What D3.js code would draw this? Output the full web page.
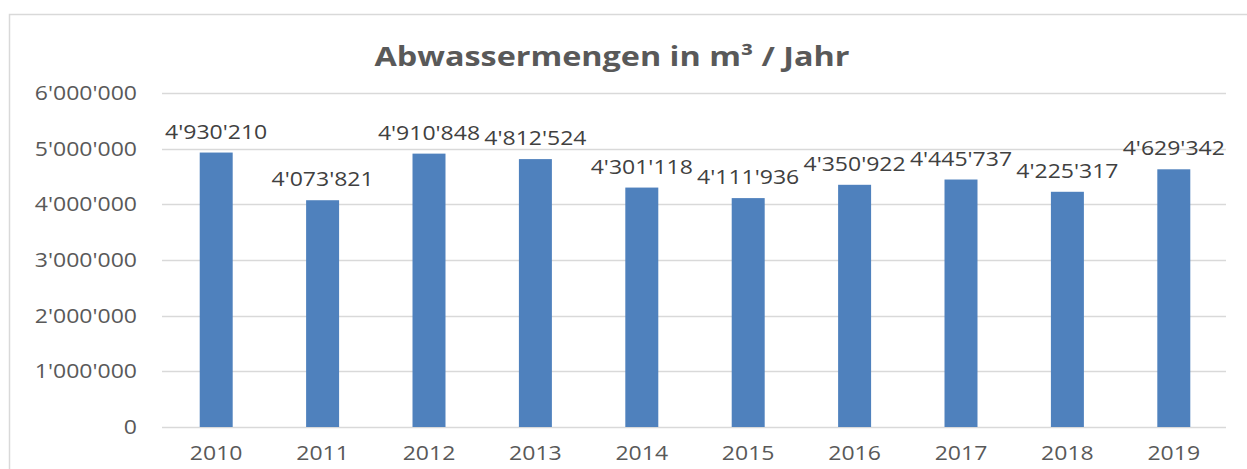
<!DOCTYPE html>
<html>
<head>
<meta charset="utf-8">
<script src="https://cdn.jsdelivr.net/npm/d3@7"></script>
<style>
  body { margin: 0; background: #fff; }
  text { font-family: "Open Sans", sans-serif; }
</style>
</head>
<body>
<script>
var width = 1247, height = 469;

// data
var years = ["2010", "2011", "2012", "2013", "2014", "2015", "2016", "2017", "2018", "2019"];
var volumes = [4930210, 4073821, 4910848, 4812524, 4301118, 4111936, 4350922, 4445737, 4225317, 4629342];
var yTicks = [0, 1000000, 2000000, 3000000, 4000000, 5000000, 6000000];

var margin = {top: 93, right: 20, bottom: 42, left: 163};
var stretch = 1.18; // the original text is drawn a bit wide

// 4930210 -> 4'930'210
function swiss(v) {
  return d3.format(",")(v).replace(/,/g, "'");
}

// widen text glyphs by a factor
function widen(sel, k) {
  sel.each(function() {
    var len = this.getComputedTextLength();
    d3.select(this)
      .attr("textLength", len * k)
      .attr("lengthAdjust", "spacingAndGlyphs");
  });
}

var svg = d3.select("body").append("svg")
  .attr("width", width)
  .attr("height", height);

// chart frame (runs off the right and bottom of the picture)
svg.append("rect")
  .attr("x", 9.5).attr("y", 14.5)
  .attr("width", 1300).attr("height", 500)
  .attr("fill", "none")
  .attr("stroke", "#d9d9d9")
  .attr("stroke-width", 1.5);

var x = d3.scaleBand()
  .domain(years)
  .range([margin.left, 1227])
  .paddingInner(0.69)
  .paddingOuter(0.345);

var y = d3.scaleLinear()
  .domain([0, 6000000])
  .range([height - margin.bottom, margin.top]);

// gridlines
svg.append("g")
  .selectAll("line")
  .data(yTicks)
  .enter().append("line")
    .attr("x1", margin.left - 1)
    .attr("x2", 1226)
    .attr("y1", function(d) { return Math.round(y(d)) + 0.5; })
    .attr("y2", function(d) { return Math.round(y(d)) + 0.5; })
    .attr("stroke", "#d9d9d9")
    .attr("stroke-width", 1.5);

// y axis labels
svg.append("g")
  .selectAll("text")
  .data(yTicks)
  .enter().append("text")
    .attr("x", 137)
    .attr("y", function(d) { return y(d); })
    .attr("dy", "0.36em")
    .attr("text-anchor", "end")
    .attr("font-size", 19.5)
    .attr("fill", "#595959")
    .text(swiss)
    .call(widen, stretch);

// bars
svg.append("g")
  .selectAll("rect")
  .data(volumes)
  .enter().append("rect")
    .attr("x", function(d, i) { return x(years[i]); })
    .attr("y", function(d) { return y(d); })
    .attr("width", x.bandwidth())
    .attr("height", function(d) { return y(0) - y(d); })
    .attr("fill", "#4f81bd");

// value labels
svg.append("g")
  .selectAll("text")
  .data(volumes)
  .enter().append("text")
    .attr("x", function(d, i) { return x(years[i]) + x.bandwidth() / 2; })
    .attr("y", function(d) { return y(d) - 14; })
    .attr("text-anchor", "middle")
    .attr("font-size", 19.5)
    .attr("fill", "#404040")
    .text(swiss)
    .call(widen, stretch);

// x axis labels
svg.append("g")
  .selectAll("text")
  .data(years)
  .enter().append("text")
    .attr("x", function(d) { return x(d) + x.bandwidth() / 2; })
    .attr("y", 460)
    .attr("text-anchor", "middle")
    .attr("font-size", 19.5)
    .attr("fill", "#595959")
    .text(function(d) { return d; })
    .call(widen, stretch);

// title
svg.append("text")
  .attr("x", 612)
  .attr("y", 66)
  .attr("text-anchor", "middle")
  .attr("font-size", 26)
  .attr("font-weight", "bold")
  .attr("fill", "#595959")
  .attr("textLength", 475)
  .attr("lengthAdjust", "spacingAndGlyphs")
  .text("Abwassermengen in m³ / Jahr");
</script>
</body>
</html>
